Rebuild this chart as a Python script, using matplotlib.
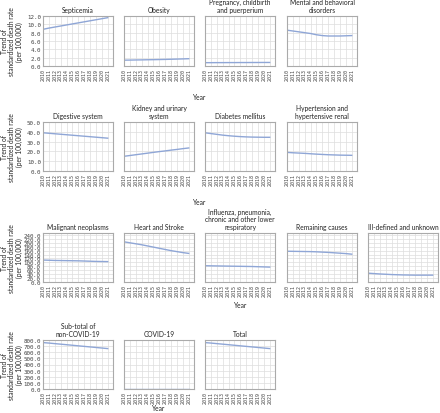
import numpy as np
import matplotlib
matplotlib.use("Agg")
import matplotlib.pyplot as plt

years = list(range(2010, 2022))

# row 1 (0-12)
septicemia = [8.8, 9.1, 9.35, 9.6, 9.85, 10.1, 10.35, 10.6, 10.85, 11.1, 11.35, 11.6]
obesity = [1.4, 1.42, 1.45, 1.47, 1.5, 1.52, 1.55, 1.58, 1.62, 1.66, 1.7, 1.75]
pregnancy = [0.8, 0.8, 0.81, 0.81, 0.82, 0.82, 0.83, 0.83, 0.84, 0.84, 0.85, 0.85]
mental = [8.6, 8.4, 8.2, 8.0, 7.8, 7.5, 7.3, 7.2, 7.2, 7.2, 7.25, 7.3]

# row 2 (0-50)
digestive = [39.0, 38.5, 38.0, 37.5, 37.0, 36.5, 36.0, 35.5, 35.0, 34.5, 34.0, 33.5]
kidney = [15.0, 15.8, 16.6, 17.4, 18.2, 19.0, 19.8, 20.5, 21.3, 22.0, 22.8, 23.5]
diabetes = [39.0, 38.2, 37.4, 36.6, 36.0, 35.5, 35.1, 34.8, 34.6, 34.5, 34.4, 34.4]
hypertension = [19.0, 18.6, 18.3, 18.0, 17.6, 17.2, 16.9, 16.6, 16.4, 16.2, 16.1, 16.0]

# row 3 (0-250)
malignant = [112, 111, 110, 109.5, 109, 108.5, 108, 107, 106, 105, 104.5, 104]
heart = [205, 200, 195, 190, 184, 178, 172, 166, 160, 155, 150, 146]
influenza = [83, 82.5, 82, 81.5, 81, 80.5, 80, 79.5, 79, 78, 77, 76]
remaining = [157, 156.5, 156, 155.5, 155, 154, 152.5, 151, 149, 147, 145, 142]
illdefined = [45, 43, 41, 39.5, 38, 37, 36, 35.5, 35, 35, 35, 35]

# row 4 (0-800)
subtotal = [758, 750, 741, 732, 723, 714, 705, 696, 687, 678, 669, 660]
covid = [0, 0, 0, 0, 0, 0, 0, 0, 0, 0, 0, 0]
total = [758, 750, 741, 732, 723, 714, 705, 696, 687, 678, 669, 660]

rows = [
    (["Septicemia", "Obesity", "Pregnancy, childbirth\nand puerperium",
      "Mental and behavioral\ndisorders"],
     [septicemia, obesity, pregnancy, mental], 12, 2, 17, 67, 30),
    (["Digestive system", "Kidney and urinary\nsystem", "Diabetes mellitus",
      "Hypertension and\nhypertensive renal"],
     [digestive, kidney, diabetes, hypertension], 50, 10, 123, 172, 31),
    (["Malignant neoplasms", "Heart and Stroke",
      "Influenza, pneumonia,\nchronic and other lower\nrespiratory",
      "Remaining causes", "Ill-defined and unknown"],
     [malignant, heart, influenza, remaining, illdefined], 250, 20, 234, 283, 22),
    (["Sub-total of\nnon-COVID-19", "COVID-19", "Total"],
     [subtotal, covid, total], 800, 100, 341, 390, 19),
]

W, H = 440, 414
fig = plt.figure(figsize=(4.4, 4.14), dpi=100)

col_left = [43, 124, 205, 287, 368]
aw = 70
line_color = "#8fa6d6"
txt_font = ["Lato", "DejaVu Sans"]

for titles, series, ymax, ystep, top, bot, yoff in rows:
    n = len(titles)
    for i in range(n):
        ax = fig.add_axes([col_left[i] / W, 1 - bot / H, aw / W, (bot - top) / H])
        ax.plot(years, series[i], color=line_color, lw=1)
        ax.set_xlim(2010, 2021.9)
        ax.set_ylim(0, ymax)
        ax.set_xticks(years)
        ax.set_xticklabels([str(y) for y in years], rotation=90,
                           fontsize=3.6, family="DejaVu Sans Mono", color="#444444")
        ax.set_yticks(np.arange(0, ymax + 0.01, ystep))
        if i == 0:
            ax.set_yticklabels(["%.1f" % v for v in np.arange(0, ymax + 0.01, ystep)],
                               fontsize=4.2, family="DejaVu Sans Mono", color="#444444")
        else:
            ax.set_yticklabels([])
        ax.tick_params(length=0, pad=1.5)
        ax.grid(True, color="#dddddd", lw=0.5)
        for s in ax.spines.values():
            s.set_color("#aaaaaa")
            s.set_linewidth(0.8)
        ax.set_title(titles[i], fontsize=4.8, pad=3, color="#222222",
                     linespacing=1.1, family=txt_font)
    # row labels
    xc = (col_left[0] + col_left[n - 1] + aw) / 2
    fig.text(xc / W, 1 - (bot + yoff) / H, "Year", ha="center", va="center",
             fontsize=4.8, color="#222222", family=txt_font)
    fig.text(12 / W, 1 - ((top + bot) / 2) / H,
             "Trend of\nstandardized death rate\n(per 100,000)",
             rotation=90, ha="center", va="center", fontsize=4.8,
             color="#222222", linespacing=1.1, family=txt_font)

fig.savefig("out.png", dpi=100)
